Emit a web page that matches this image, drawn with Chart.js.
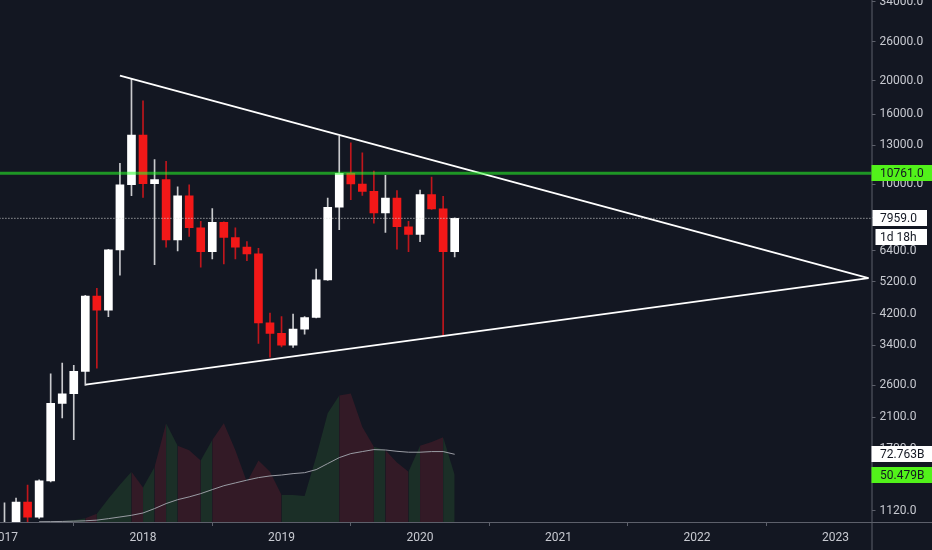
<!DOCTYPE html>
<html>
<head>
<meta charset="utf-8">
<title>BTC monthly — triangle</title>
<script src="https://cdn.jsdelivr.net/npm/chart.js@4.4.1/dist/chart.umd.min.js"></script>
<style>
  html, body { margin: 0; padding: 0; background: #131722; }
  #wrap { position: relative; width: 932px; height: 550px; }
</style>
</head>
<body>
<div id="wrap"><canvas id="btc-chart"></canvas></div>
<script>
/* ---------- data ---------- */
const months = [
  '2017-01','2017-02','2017-03','2017-04','2017-05','2017-06','2017-07','2017-08','2017-09','2017-10','2017-11','2017-12',
  '2018-01','2018-02','2018-03','2018-04','2018-05','2018-06','2018-07','2018-08','2018-09','2018-10','2018-11','2018-12',
  '2019-01','2019-02','2019-03','2019-04','2019-05','2019-06','2019-07','2019-08','2019-09','2019-10','2019-11','2019-12',
  '2020-01','2020-02','2020-03','2020-04'
];
const open  = [963, 970, 1188, 1074, 1370, 2303, 2455, 2852, 4725, 4300, 6440, 9970,
               13900, 10040, 10320, 6890, 9260, 7470, 6360, 7750, 7000, 6560, 6270, 3950,
               3680, 3400, 3785, 4095, 5270, 8570, 10760, 10020, 9530, 8250, 9120, 7520,
               7140, 9330, 8480, 6360];
const high  = [1181, 1221, 1332, 1380, 2807, 3016, 2970, 4750, 4975, 6470, 11500, 20230,
               17480, 11800, 11670, 9830, 9970, 7800, 8500, 7780, 7470, 6810, 6510, 4220,
               4120, 4190, 4120, 5660, 9120, 13800, 13200, 12350, 10930, 10620, 9590, 7800,
               9610, 10500, 9220, 7990];
const low   = [750, 920, 890, 1065, 1360, 2088, 1804, 2597, 2915, 4120, 5440, 9260,
               9160, 5830, 6560, 6400, 7050, 5740, 6060, 5860, 6060, 5990, 3440, 3140,
               3360, 3350, 3660, 4080, 5250, 7370, 9020, 9280, 7710, 7240, 6470, 6360,
               6810, 8450, 3630, 6140];
const close = [970, 1188, 1074, 1370, 2303, 2455, 2852, 4725, 4300, 6440, 9970, 13900,
               10040, 10320, 6890, 9260, 7470, 6360, 7750, 7000, 6560, 6270, 3950, 3680,
               3400, 3785, 4095, 5270, 8570, 10760, 10020, 9530, 8250, 9120, 7520, 7140,
               9330, 8480, 6360, 7959];
// volume in billions, null = no data
const volume = [null, null, null, 0.5, 0.8, 1.2, 2, 4, 9, 25, 40, 54,
                37, 59, 106, 82, 77, 66, 88, 106, 77, 43, 66, 54,
                29, 29, 28, 70, 117, 136, 138, 102, 81, 77, 64, 54,
                82, 86, 91, 50.5];
const volumeMA = [null, null, null, 0.3, 0.4, 0.6, 0.9, 1.3, 2, 3.6, 5.4, 7.2,
                  9.7, 14.4, 19.8, 24, 27, 30.5, 34.8, 39, 42, 45, 47.7, 49.5,
                  50.5, 52, 53, 56.3, 62.8, 69.2, 73.5, 75.7, 77.8, 77.4, 76, 75,
                  75, 75.7, 75.7, 72.763];
const yearTicks  = ['2017', '2018', '2019', '2020', '2021', '2022', '2023'];
const priceTicks = [34000, 26000, 20000, 16000, 13000, 10000, 8000, 6400, 5200, 4200,
                    3400, 2600, 2100, 1700, 1400, 1120];
const resistance = 10761;
const countdown  = '1d 18h';
const volMALabel = '72.763B';
const volLabel   = '50.479B';
// trendlines: [month index, price]
const upperTrend = [[10.0, 20700], [74.85, 5329]];
const lowerTrend = [[7.03, 2612], [74.85, 5329]];

/* ---------- derived ---------- */
const idx = months.map((_, i) => i);
const isUp = idx.map(i => close[i] >= open[i]);
const lastClose = close[close.length - 1];
const volData = idx.filter(i => volume[i] != null).map(i => ({ x: i, y: volume[i], up: isUp[i] }));
const volMAData = idx.filter(i => volumeMA[i] != null).map(i => ({ x: i, y: volumeMA[i] }));

const BG = '#131722', TXT = '#c8cad1', AXIS = '#5d606b', LIME = '#52f21a';
const VOL_UP = '#1b2f27', VOL_DN = '#331a26';
const FONT = { family: 'Roboto', size: 12 };

const tvBackground = {
  id: 'tvBackground',
  beforeDraw(chart) {
    const c = chart.ctx;
    c.save(); c.fillStyle = BG; c.fillRect(0, 0, chart.width, chart.height); c.restore();
  }
};

function tag(c, y, x0, x1, bg, fg, text) {
  c.fillStyle = bg;
  c.fillRect(x0, Math.round(y) - 8, x1 - x0, 16);
  c.fillStyle = fg;
  c.textBaseline = 'middle';
  c.textAlign = 'left';
  c.font = '12px Roboto';
  c.fillText(text, 880, Math.round(y) + 0.5);
}

const tvFrame = {
  id: 'tvFrame',
  afterDraw(chart) {
    const c = chart.ctx, a = chart.chartArea, ys = chart.scales.y, vs = chart.scales.vol;
    c.save();
    c.strokeStyle = AXIS; c.lineWidth = 1;
    c.beginPath();
    c.moveTo(0, a.bottom + 0.5); c.lineTo(chart.width, a.bottom + 0.5);
    c.moveTo(a.right + 0.5, 0); c.lineTo(a.right + 0.5, chart.height);
    c.stroke();
    const yRes = ys.getPixelForValue(resistance);
    const yLast = ys.getPixelForValue(lastClose);
    tag(c, yRes, a.right, chart.width, LIME, BG, resistance.toFixed(1));
    tag(c, yLast, a.right + 1, 927, '#ffffff', BG, lastClose.toFixed(1));
    tag(c, yLast + 19, a.right + 4, 927, '#ffffff', BG, countdown);
    tag(c, vs.getPixelForValue(volumeMA[volumeMA.length - 1]), a.right, chart.width, '#ffffff', BG, volMALabel);
    tag(c, vs.getPixelForValue(volume[volume.length - 1]), a.right, chart.width, LIME, BG, volLabel);
    c.restore();
  }
};

const hLine = (v) => [{ x: -2, y: v }, { x: 80, y: v }];
const trend = (t) => t.map(p => ({ x: p[0], y: p[1] }));

new Chart(document.getElementById('btc-chart'), {
  type: 'bar',
  data: {
    datasets: [
      { type: 'line', label: 'resistance', data: hLine(resistance), yAxisID: 'y',
        borderColor: 'rgba(40,255,40,0.55)', borderWidth: 3, pointRadius: 0, order: 0 },
      { type: 'line', label: 'last', data: hLine(lastClose), yAxisID: 'y',
        borderColor: '#d8d8d8', borderWidth: 1, borderDash: [1, 2], pointRadius: 0, order: 1 },
      { type: 'line', label: 'upper', data: trend(upperTrend), yAxisID: 'y',
        borderColor: '#ffffff', borderWidth: 1.8, pointRadius: 0, order: 1 },
      { type: 'line', label: 'lower', data: trend(lowerTrend), yAxisID: 'y',
        borderColor: '#ffffff', borderWidth: 1.8, pointRadius: 0, order: 1 },
      { label: 'body', data: idx.map(i => ({ x: i, y: [open[i], close[i]] })), yAxisID: 'y',
        backgroundColor: isUp.map(u => u ? '#ffffff' : '#f21818'),
        barThickness: 8, minBarLength: 1, grouped: false, order: 2 },
      { label: 'wick', data: idx.map(i => ({ x: i, y: [low[i], high[i]] })), yAxisID: 'y',
        backgroundColor: isUp.map(u => u ? '#c9cacd' : '#c0161c'),
        barThickness: 1, grouped: false, order: 3 },
      { type: 'line', label: 'vol MA', data: volMAData, yAxisID: 'vol',
        borderColor: '#9a9ca4', borderWidth: 1, pointRadius: 0, order: 5 },
      { type: 'line', label: 'volume', data: volData, yAxisID: 'vol',
        fill: 'origin', borderWidth: 0, pointRadius: 0, backgroundColor: VOL_DN,
        segment: { backgroundColor: ctx => volData[ctx.p1DataIndex].up ? VOL_UP : VOL_DN },
        order: 6 },
    ],
  },
  options: {
    responsive: true, maintainAspectRatio: false, animation: false,
    layout: { padding: 0 },
    plugins: { legend: { display: false }, tooltip: { enabled: false } },
    scales: {
      x: {
        type: 'linear', min: -0.39, max: 75.11, offset: false, bounds: 'data',
        afterBuildTicks: s => { s.ticks = yearTicks.map((_, i) => ({ value: i * 12 })); },
        afterFit: s => { s.height = 28; s.paddingLeft = 0; s.paddingRight = 0; },
        ticks: { autoSkip: false, maxRotation: 0, color: TXT, font: FONT, padding: 5,
                 callback: v => yearTicks[Math.round(v / 12)] },
        grid: { drawOnChartArea: false, drawTicks: true, tickLength: 4, tickColor: AXIS },
        border: { display: false },
      },
      y: {
        type: 'logarithmic', position: 'right', min: 1039.4, max: 34390, bounds: 'data',
        afterBuildTicks: s => { s.ticks = priceTicks.map(v => ({ value: v })); },
        afterFit: s => { s.width = 60.5; s.paddingTop = 0; s.paddingBottom = 0; },
        ticks: { autoSkip: false, color: TXT, font: FONT, padding: 4,
                 callback: v => Number(v).toFixed(1) },
        grid: { drawOnChartArea: false, drawTicks: true, tickLength: 4, tickColor: AXIS },
        border: { display: false },
      },
      vol: { type: 'linear', display: false, min: 0, max: 561 },
    },
  },
  plugins: [tvBackground, tvFrame],
});
</script>
</body>
</html>
